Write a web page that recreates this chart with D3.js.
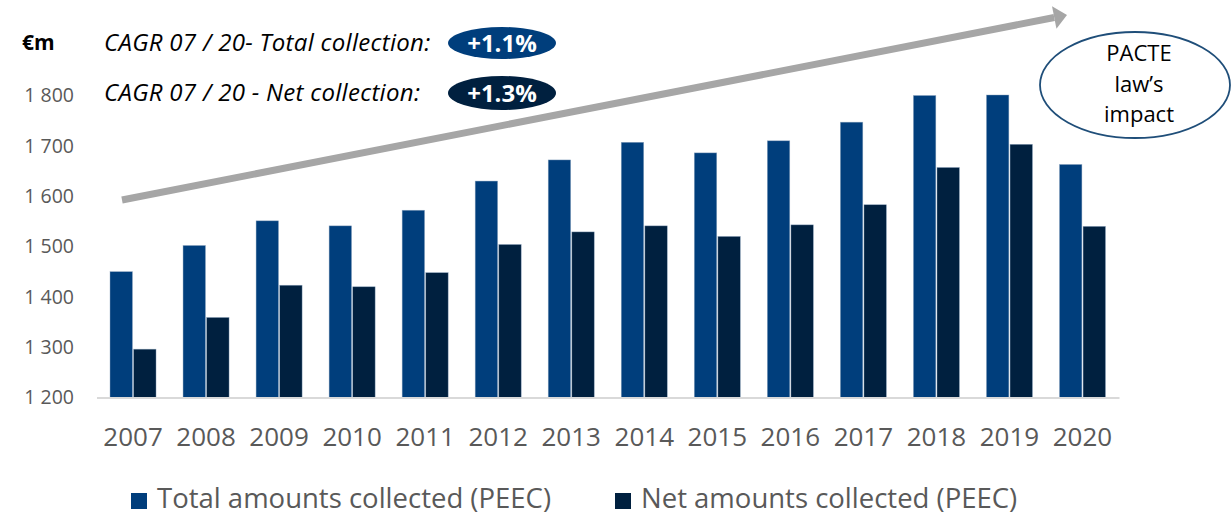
<!DOCTYPE html>
<html>
<head>
<meta charset="utf-8">
<script src="https://cdn.jsdelivr.net/npm/d3@7"></script>
<style>
  html, body { margin: 0; padding: 0; background: #fff; }
  svg { display: block; font-family: "Open Sans", Lato, sans-serif; }
</style>
</head>
<body>
<svg id="chart" width="1231" height="515"></svg>
<script>
// PEEC collection, €m
const years = ["2007","2008","2009","2010","2011","2012","2013","2014","2015","2016","2017","2018","2019","2020"];
const totalCollected = [1450, 1502, 1551, 1541, 1572, 1630, 1672, 1707, 1686, 1710, 1747, 1800, 1801, 1663];
const netCollected   = [1296, 1359, 1423, 1420, 1448, 1504, 1529, 1541, 1520, 1543, 1583, 1657, 1703, 1540];
const seriesNames = ["Total amounts collected (PEEC)", "Net amounts collected (PEEC)"];
const yTicks = [1200, 1300, 1400, 1500, 1600, 1700, 1800];
const cagrLabels = ["CAGR 07 / 20- Total collection:", "CAGR 07 / 20 - Net collection:"];
const cagrValues = ["+1.1%", "+1.3%"];
const noteLines = ["PACTE", "law\u2019s", "impact"];

const colors = ["#003e7c", "#00203f"];
const font = "'Open Sans', Lato, sans-serif";
const svg = d3.select("#chart");

const x = d3.scaleBand().domain(years).range([96.5, 1119]).paddingInner(0.37).paddingOuter(0.185);
const xs = d3.scaleBand().domain([0, 1]).range([0, x.bandwidth()]).paddingInner(0.05);
const y = d3.scaleLinear().domain([1200, 1800]).range([397.5, 95.5]);

const rows = years.map((yr, i) => ({ year: yr, values: [totalCollected[i], netCollected[i]] }));

// bars
const groups = svg.append("g").selectAll("g").data(rows).join("g")
  .attr("transform", d => `translate(${x(d.year)},0)`);
groups.selectAll("rect").data(d => d.values.map((v, k) => ({ v, k }))).join("rect")
  .attr("x", d => xs(d.k))
  .attr("width", xs.bandwidth())
  .attr("y", d => y(d.v))
  .attr("height", d => y(1200) - y(d.v))
  .attr("fill", d => colors[d.k])
  .attr("stroke", "#8fa6c0").attr("stroke-width", 0.6).attr("stroke-opacity", 0.7);

// x axis
const fmtLocale = d3.formatLocale({ decimal: ".", thousands: " ", grouping: [3], currency: ["", "€"] });
const xAxis = svg.append("g").attr("transform", `translate(0,${y(1200)})`)
  .call(d3.axisBottom(x).tickSize(0).tickPadding(30));
xAxis.select(".domain").attr("stroke", "#d9d9d9").attr("stroke-width", 2);
xAxis.selectAll("text").attr("font-size", 26).attr("fill", "#595959").attr("font-family", font);

// y axis
const yAxis = svg.append("g").attr("transform", "translate(74,0)")
  .call(d3.axisLeft(y).tickValues(yTicks).tickSize(0).tickPadding(0).tickFormat(fmtLocale.format(",")));
yAxis.select(".domain").remove();
yAxis.selectAll("text").attr("font-size", 19.5).attr("fill", "#595959").attr("font-family", font);

// unit
svg.append("text").attr("x", 22).attr("y", 50).attr("font-size", 21).attr("font-weight", "bold")
  .attr("fill", "#000").text("€m");

// trend arrow
const a0 = [122, 200], a1 = [1067, 15];
const ang = Math.atan2(a1[1] - a0[1], a1[0] - a0[0]);
const headLen = 13, headHalf = 11.5;
const base = [a1[0] - headLen * Math.cos(ang), a1[1] - headLen * Math.sin(ang)];
svg.append("line").attr("x1", a0[0]).attr("y1", a0[1]).attr("x2", base[0]).attr("y2", base[1])
  .attr("stroke", "#a6a6a6").attr("stroke-width", 7);
svg.append("path")
  .attr("d", d3.line()([
    a1,
    [base[0] - headHalf * Math.sin(ang), base[1] + headHalf * Math.cos(ang)],
    [base[0] + headHalf * Math.sin(ang), base[1] - headHalf * Math.cos(ang)]
  ]) + "Z")
  .attr("fill", "#a6a6a6");

// CAGR annotations
const cagrY = [43, 93];
cagrLabels.forEach((t, i) => {
  svg.append("text").attr("x", 104).attr("y", cagrY[i] + 8).attr("font-size", 24)
    .attr("letter-spacing", 0.3).attr("font-style", "italic").attr("fill", "#000").text(t);
  svg.append("ellipse").attr("cx", 502).attr("cy", cagrY[i]).attr("rx", 54).attr("ry", i ? 17 : 16)
    .attr("fill", colors[i]);
  svg.append("text").attr("x", 502).attr("y", cagrY[i] + 8.5).attr("text-anchor", "middle")
    .attr("font-size", 24).attr("font-weight", "bold").attr("fill", "#fff").text(cagrValues[i]);
});

// PACTE note
svg.append("ellipse").attr("cx", 1135).attr("cy", 85).attr("rx", 95).attr("ry", 53)
  .attr("fill", "#fff").attr("stroke", "#1f4e79").attr("stroke-width", 1.8);
noteLines.forEach((t, i) => {
  svg.append("text").attr("x", 1139).attr("y", 61 + i * 30.5).attr("text-anchor", "middle")
    .attr("font-size", 22).attr("fill", "#000").text(t);
});

// legend
const legendX = [131, 615];
seriesNames.forEach((n, i) => {
  svg.append("rect").attr("x", legendX[i]).attr("y", 493).attr("width", 16).attr("height", 16)
    .attr("fill", colors[i]);
  svg.append("text").attr("x", legendX[i] + 26).attr("y", 507.5).attr("font-size", 27.5)
    .attr("fill", "#595959").text(n);
});
</script>
</body>
</html>
